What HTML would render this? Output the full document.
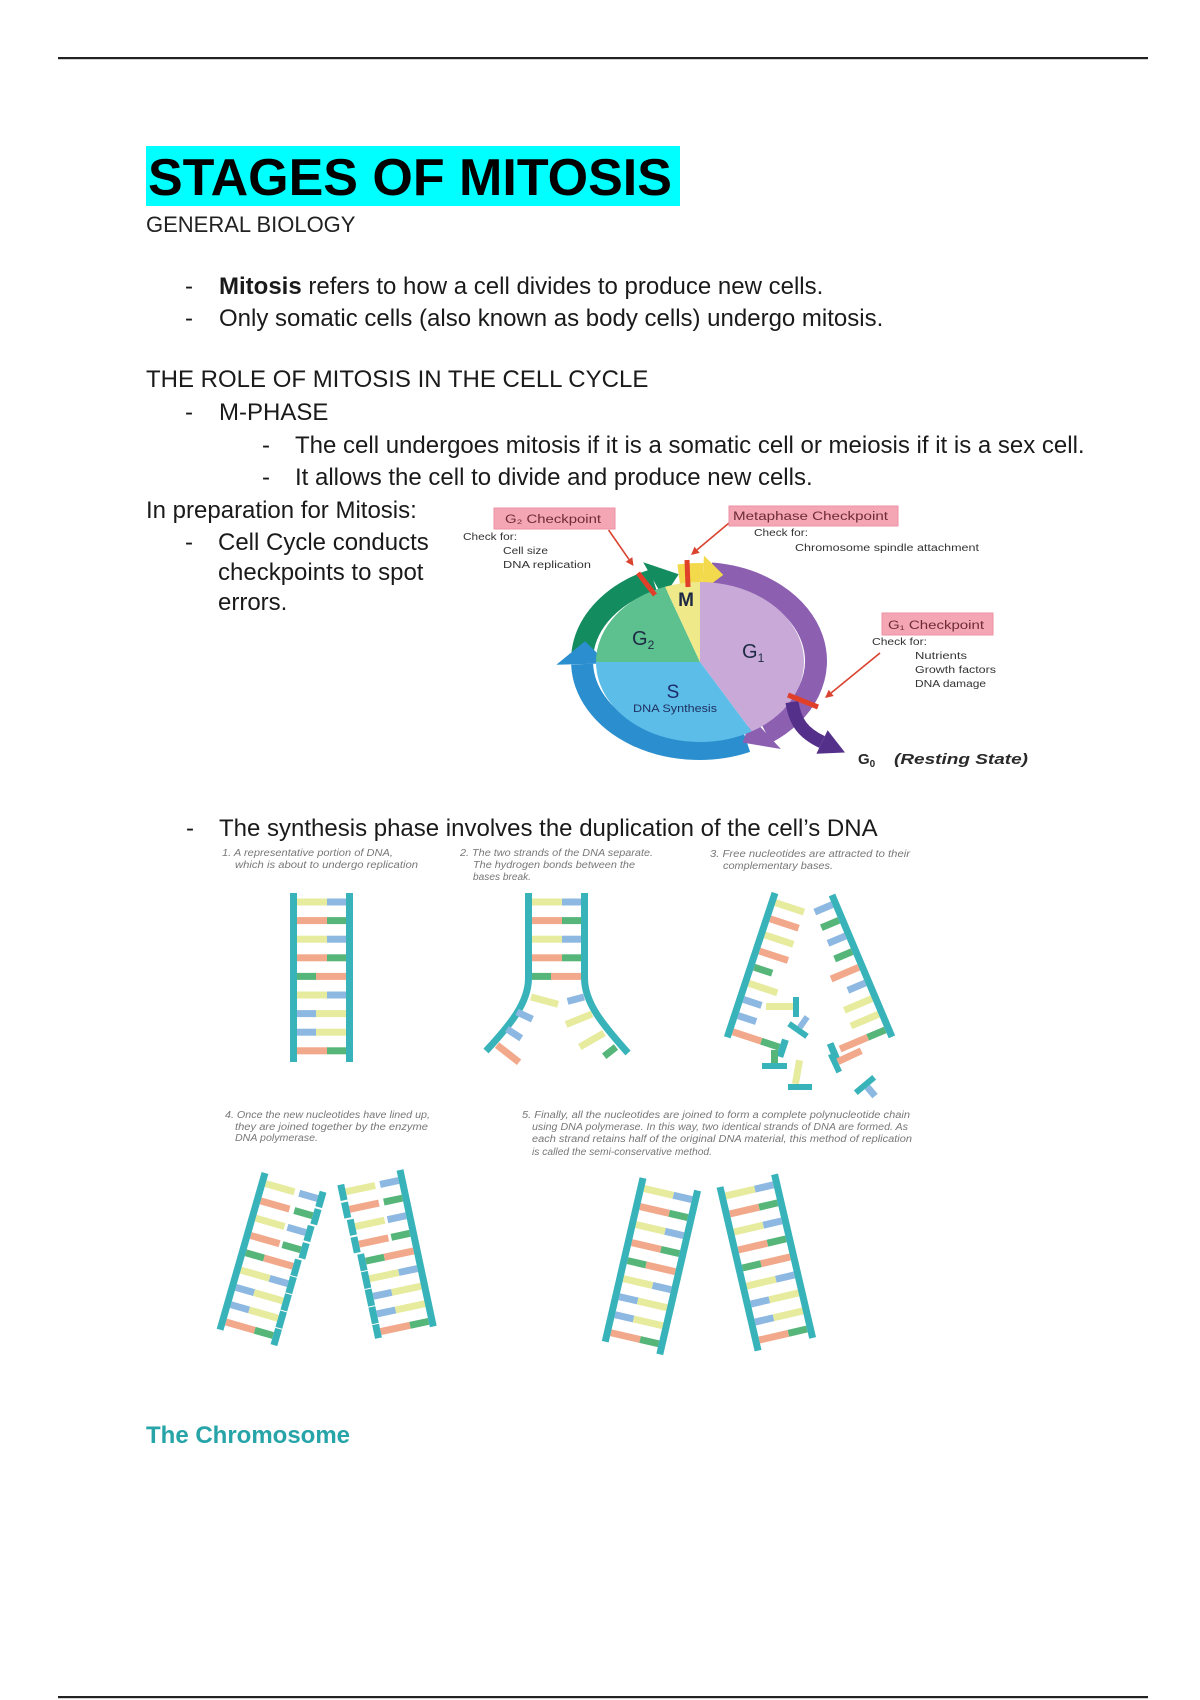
<!DOCTYPE html>
<html><head><meta charset="utf-8">
<style>
html,body{margin:0;padding:0;background:#fff;}
svg{display:block;}
text{font-family:"Liberation Sans",Arial,sans-serif;}
</style></head><body>
<svg width="1200" height="1700" viewBox="0 0 1200 1700" xmlns="http://www.w3.org/2000/svg">
<defs>
 <rect id="LY" x="3.5" y="-3.5" width="30" height="7" fill="#e6eb9d"/>
 <rect id="LO" x="3.5" y="-3.5" width="30" height="7" fill="#f2a88a"/>
 <rect id="LG" x="3.5" y="-3.5" width="19" height="7" fill="#56b67a"/>
 <rect id="LB" x="3.5" y="-3.5" width="19" height="7" fill="#8db8e2"/>
 <rect id="RY" x="22.5" y="-3.5" width="30" height="7" fill="#e6eb9d"/>
 <rect id="RO" x="22.5" y="-3.5" width="30" height="7" fill="#f2a88a"/>
 <rect id="RG" x="33.5" y="-3.5" width="19" height="7" fill="#56b67a"/>
 <rect id="RB" x="33.5" y="-3.5" width="19" height="7" fill="#8db8e2"/>
 <g id="YB"><use href="#LY"/><use href="#RB"/></g>
 <g id="OG"><use href="#LO"/><use href="#RG"/></g>
 <g id="GO"><use href="#LG"/><use href="#RO"/></g>
 <g id="BY"><use href="#LB"/><use href="#RY"/></g>
</defs>
<rect width="1200" height="1700" fill="#fff"/>

<!-- rules -->
<rect x="58" y="57" width="1090" height="2.2" fill="#222"/>
<rect x="58" y="1696" width="1090" height="2.2" fill="#222"/>

<!-- title -->
<rect x="146" y="146" width="534" height="60" fill="#0ff"/>
<text x="148" y="195" font-size="52" font-weight="bold" fill="#000">STAGES OF MITOSIS</text>
<text x="146" y="232" font-size="22" fill="#222">GENERAL BIOLOGY</text>

<!-- body text -->
<g font-size="24" fill="#1a1a1a">
 <text x="185" y="294">-</text>
 <text x="219" y="294"><tspan font-weight="bold">Mitosis</tspan> refers to how a cell divides to produce new cells.</text>
 <text x="185" y="326">-</text>
 <text x="219" y="326">Only somatic cells (also known as body cells) undergo mitosis.</text>
 <text x="146" y="387">THE ROLE OF MITOSIS IN THE CELL CYCLE</text>
 <text x="185" y="420">-</text>
 <text x="219" y="420">M-PHASE</text>
 <text x="262" y="453">-</text>
 <text x="295" y="453">The cell undergoes mitosis if it is a somatic cell or meiosis if it is a sex cell.</text>
 <text x="262" y="485">-</text>
 <text x="295" y="485">It allows the cell to divide and produce new cells.</text>
 <text x="146" y="518">In preparation for Mitosis:</text>
 <text x="185" y="550">-</text>
 <text x="218" y="550">Cell Cycle conducts</text>
 <text x="218" y="580">checkpoints to spot</text>
 <text x="218" y="610">errors.</text>
 <text x="186" y="836">-</text>
 <text x="219" y="836">The synthesis phase involves the duplication of the cell’s DNA</text>
</g>
<text x="146" y="1443" font-size="24" font-weight="bold" fill="#26a4a8">The Chromosome</text>

<!-- ================= CELL CYCLE ================= -->
<path d="M582.4,653.3 A117,88 0 0,1 653.3,580" stroke="#138d60" stroke-width="22" fill="none"/>
<polygon points="643.2,562.2 663.3,597.8 678.7,574.3" fill="#138d60"/>
<path d="M746.6,741.4 A117,88 0 0,1 582.1,664.1" stroke="#2b8fcf" stroke-width="22" fill="none"/>
<polygon points="556.3,664.7 607.8,663.4 585.0,641.2" fill="#2b8fcf"/>
<path d="M711.2,573.5 A117,88 0 0,1 766.1,733.1" stroke="#8c5fb1" stroke-width="22" fill="none"/>
<polygon points="780.9,749.0 751.3,717.2 742.8,742.6" fill="#8c5fb1"/>
<path d="M678.7,574.3 A117,88 0 0,1 703.1,573.1" stroke="#f3da4c" stroke-width="20" fill="none"/>
<polygon points="703.9,555.5 702.3,590.6 723.3,574.9" fill="#f3da4c"/>

<path d="M700,662 L700,582 A104,80 0 0,1 751.7,731.4 Z" fill="#c8a9d7"/>
<path d="M700,662 L751.7,731.4 A104,80 0 0,1 596,662 Z" fill="#5cbde9"/>
<path d="M700,662 L596,662 A104,80 0 0,1 665,586.7 Z" fill="#5dc08f"/>
<path d="M700,662 L665,586.7 A104,80 0 0,1 700,582 Z" fill="#efe98a"/>

<path d="M792,702 C795,722 803,733 822,742" stroke="#55308a" stroke-width="13" fill="none"/>
<polygon points="816.4,753.8 827.6,730.2 845,752.5" fill="#55308a"/>

<g stroke="#e0402a" stroke-width="5">
 <line x1="638" y1="573" x2="655" y2="595"/>
 <line x1="687" y1="560" x2="688" y2="587"/>
 <line x1="788" y1="695" x2="818" y2="707"/>
</g>
<g stroke="#d9432f" stroke-width="1.6">
 <line x1="608.6" y1="530" x2="629" y2="559.4"/>
 <line x1="729" y1="523" x2="697.1" y2="549.8"/>
 <line x1="880" y1="653" x2="831.2" y2="692.9"/>
</g>
<g fill="#d9432f">
 <polygon points="625.7,561.7 632.3,557.1 633.5,566"/>
 <polygon points="694.5,546.7 699.7,552.9 691,555"/>
 <polygon points="828.7,689.8 833.7,696.0 825,698"/>
</g>

<text x="686" y="606" font-size="19" font-weight="bold" fill="#1e2a45" text-anchor="middle">M</text>
<text x="632" y="645" font-size="20" fill="#1e2b44">G<tspan font-size="12" dy="4">2</tspan></text>
<text x="742" y="658" font-size="20" fill="#1e2b44">G<tspan font-size="12" dy="4">1</tspan></text>
<text x="673" y="698" font-size="19" fill="#1e2b6a" text-anchor="middle">S</text>
<text x="633" y="712" font-size="11" fill="#1e3060" textLength="84" lengthAdjust="spacingAndGlyphs">DNA Synthesis</text>

<rect x="494" y="508" width="121" height="21" fill="#f5a6b5" stroke="#ec93a4" stroke-width="1"/>
<text x="505" y="523" font-size="11.5" fill="#6d2b35" textLength="96" lengthAdjust="spacingAndGlyphs">G₂ Checkpoint</text>
<rect x="729" y="506" width="169" height="20" fill="#f5a6b5" stroke="#ec93a4" stroke-width="1"/>
<text x="733" y="520" font-size="11.5" fill="#6d2b35" textLength="155" lengthAdjust="spacingAndGlyphs">Metaphase Checkpoint</text>
<rect x="882" y="613" width="111" height="22" fill="#f5a6b5" stroke="#ec93a4" stroke-width="1"/>
<text x="888" y="629" font-size="11.5" fill="#6d2b35" textLength="96" lengthAdjust="spacingAndGlyphs">G₁ Checkpoint</text>

<g font-size="10" fill="#333">
 <text x="463" y="540" textLength="54" lengthAdjust="spacingAndGlyphs">Check for:</text>
 <text x="503" y="554" textLength="45" lengthAdjust="spacingAndGlyphs">Cell size</text>
 <text x="503" y="568" textLength="88" lengthAdjust="spacingAndGlyphs">DNA replication</text>
 <text x="754" y="536" textLength="54" lengthAdjust="spacingAndGlyphs">Check for:</text>
 <text x="795" y="551" textLength="184" lengthAdjust="spacingAndGlyphs">Chromosome spindle attachment</text>
 <text x="872" y="645" textLength="55" lengthAdjust="spacingAndGlyphs">Check for:</text>
 <text x="915" y="659" textLength="52" lengthAdjust="spacingAndGlyphs">Nutrients</text>
 <text x="915" y="673" textLength="81" lengthAdjust="spacingAndGlyphs">Growth factors</text>
 <text x="915" y="687" textLength="71" lengthAdjust="spacingAndGlyphs">DNA damage</text>
</g>
<text x="858" y="764" font-size="15" font-weight="bold" fill="#2a2a2a">G<tspan font-size="10" dy="3">0</tspan></text>
<text x="894" y="764" font-size="15" font-weight="bold" font-style="italic" fill="#2a2a2a" textLength="134" lengthAdjust="spacingAndGlyphs">(Resting State)</text>

<!-- ================= DNA captions ================= -->
<g font-size="10" font-style="italic" fill="#777">
 <text x="222" y="856" textLength="171" lengthAdjust="spacingAndGlyphs">1. A representative portion of DNA,</text>
 <text x="235" y="868" textLength="183" lengthAdjust="spacingAndGlyphs">which is about to undergo replication</text>
 <text x="460" y="856" textLength="193" lengthAdjust="spacingAndGlyphs">2. The two strands of the DNA separate.</text>
 <text x="473" y="868" textLength="162" lengthAdjust="spacingAndGlyphs">The hydrogen bonds between the</text>
 <text x="473" y="880" textLength="58" lengthAdjust="spacingAndGlyphs">bases break.</text>
 <text x="710" y="857" textLength="200" lengthAdjust="spacingAndGlyphs">3. Free nucleotides are attracted to their</text>
 <text x="723" y="869" textLength="110" lengthAdjust="spacingAndGlyphs">complementary bases.</text>
 <text x="225" y="1118" textLength="205" lengthAdjust="spacingAndGlyphs">4. Once the new nucleotides have lined up,</text>
 <text x="235" y="1130" textLength="193" lengthAdjust="spacingAndGlyphs">they are joined together by the enzyme</text>
 <text x="235" y="1141" textLength="83" lengthAdjust="spacingAndGlyphs">DNA polymerase.</text>
 <text x="522" y="1118" textLength="388" lengthAdjust="spacingAndGlyphs">5. Finally, all the nucleotides are joined to form a complete polynucleotide chain</text>
 <text x="532" y="1130" textLength="376" lengthAdjust="spacingAndGlyphs">using DNA polymerase. In this way, two identical strands of DNA are formed. As</text>
 <text x="532" y="1142" textLength="380" lengthAdjust="spacingAndGlyphs">each strand retains half of the original DNA material, this method of replication</text>
 <text x="532" y="1155" textLength="180" lengthAdjust="spacingAndGlyphs">is called the semi-conservative method.</text>
</g>

<!-- Ladder 1 -->
<g transform="translate(293.5,893)">
 <use href="#YB" y="9"/><use href="#OG" y="27.6"/><use href="#YB" y="46.2"/><use href="#OG" y="64.8"/><use href="#GO" y="83.4"/><use href="#YB" y="102"/><use href="#BY" y="120.6"/><use href="#BY" y="139.2"/><use href="#OG" y="157.8"/>
 <rect x="-3.5" y="0" width="7" height="169" fill="#38b3b9"/><rect x="52.5" y="0" width="7" height="169" fill="#38b3b9"/>
</g>

<!-- Ladder 2 -->
<g transform="translate(528.5,893)">
 <use href="#YB" y="9"/><use href="#OG" y="27.6"/><use href="#YB" y="46.2"/><use href="#OG" y="64.8"/><use href="#GO" y="83.4"/>
</g>
<path d="M528.5,893 V978 C528.5,1003 510,1025 486,1051" stroke="#38b3b9" stroke-width="7" fill="none"/>
<path d="M584.5,893 V978 C584.5,1003 603,1025 628,1053" stroke="#38b3b9" stroke-width="7" fill="none"/>
<rect x="0" y="-3.5" width="28" height="7" fill="#e6eb9d" transform="translate(531,997) rotate(15)"/>
<rect x="0" y="-3.5" width="17" height="7" fill="#8db8e2" transform="translate(517,1012) rotate(25)"/>
<rect x="0" y="-3.5" width="17" height="7" fill="#8db8e2" transform="translate(507,1029) rotate(33)"/>
<rect x="0" y="-3.5" width="28" height="7" fill="#f2a88a" transform="translate(497,1045) rotate(38)"/>
<rect x="-17" y="-3.5" width="17" height="7" fill="#8db8e2" transform="translate(584,997) rotate(-15)"/>
<rect x="-28" y="-3.5" width="28" height="7" fill="#e6eb9d" transform="translate(592,1014) rotate(-22)"/>
<rect x="-28" y="-3.5" width="28" height="7" fill="#e6eb9d" transform="translate(604,1033) rotate(-30)"/>
<rect x="-15" y="-3.5" width="15" height="7" fill="#56b67a" transform="translate(616,1047) rotate(-38)"/>

<!-- Ladder 3 left strand -->
<g transform="translate(775,893) rotate(18.3)">
 <use href="#LY" y="9"/><use href="#LO" y="26"/><use href="#LY" y="43"/><use href="#LO" y="60"/><use href="#LG" y="77"/><use href="#LY" y="94"/><use href="#LB" y="111"/><use href="#LB" y="128"/>
 <use href="#OG" y="145"/><rect x="52.5" y="136" width="7" height="18" fill="#38b3b9"/>
 <rect x="-3.5" y="0" width="7" height="152" fill="#38b3b9"/>
</g>
<!-- Ladder 3 right strand -->
<g transform="translate(832,895) rotate(-22.9)">
 <use href="#RB" x="-56" y="9"/><use href="#RG" x="-56" y="26"/><use href="#RB" x="-56" y="43"/><use href="#RG" x="-56" y="60"/><use href="#RO" x="-56" y="77"/><use href="#RB" x="-56" y="94"/><use href="#RY" x="-56" y="111"/><use href="#RY" x="-56" y="128"/>
 <use href="#OG" x="-56" y="145"/><rect x="-63" y="136" width="7" height="18" fill="#38b3b9"/>
 <rect x="-3.5" y="0" width="7" height="154" fill="#38b3b9"/>
</g>
<!-- free nucleotides -->
<rect x="766" y="1003" width="27" height="7" fill="#e6eb9d"/>
<rect x="793" y="997" width="6" height="20" fill="#38b3b9"/>
<g transform="translate(798,1030) rotate(35)"><rect x="-3" y="-16" width="6" height="13" fill="#8db8e2"/><rect x="-11" y="-3" width="22" height="6" fill="#38b3b9"/></g>
<rect x="771" y="1050" width="7" height="13" fill="#56b67a"/>
<rect x="762" y="1063" width="25" height="6" fill="#38b3b9"/>
<rect x="794" y="1060" width="7" height="24" fill="#e6eb9d" transform="rotate(10 797 1072)"/>
<rect x="788" y="1084" width="24" height="6" fill="#38b3b9"/>
<g transform="translate(835,1063) rotate(-25)"><rect x="3" y="-3.5" width="26" height="7" fill="#f2a88a"/><rect x="-3" y="-10" width="6" height="20" fill="#38b3b9"/></g>
<g transform="translate(865,1085) rotate(-40)"><rect x="-3" y="3" width="7" height="12" fill="#8db8e2"/><rect x="-12" y="-3" width="24" height="6" fill="#38b3b9"/></g>

<!-- Ladder 4 left -->
<g transform="translate(265,1173) rotate(16)">
 <use href="#LY" y="10"/><use href="#RB" x="5" y="10"/><rect x="57.5" y="2" width="7" height="16" fill="#38b3b9"/>
 <use href="#LO" y="28"/><use href="#RG" x="5" y="28"/><rect x="57.5" y="20" width="7" height="16" fill="#38b3b9"/>
 <use href="#LY" y="46"/><use href="#RB" x="3" y="46"/><rect x="55.5" y="38" width="7" height="16" fill="#38b3b9"/>
 <use href="#LO" y="64"/><use href="#RG" x="3" y="64"/><rect x="55.5" y="56" width="7" height="16" fill="#38b3b9"/>
 <use href="#GO" y="82"/><rect x="52.5" y="74" width="7" height="17" fill="#38b3b9"/>
 <use href="#YB" y="100"/><rect x="52.5" y="92" width="7" height="17" fill="#38b3b9"/>
 <use href="#BY" y="118"/><rect x="52.5" y="110" width="7" height="17" fill="#38b3b9"/>
 <use href="#BY" y="136"/><rect x="52.5" y="128" width="7" height="17" fill="#38b3b9"/>
 <use href="#OG" y="154"/><rect x="52.5" y="146" width="7" height="17" fill="#38b3b9"/>
 <rect x="-3.5" y="0" width="7" height="163" fill="#38b3b9"/>
</g>
<!-- Ladder 4 right -->
<g transform="translate(400,1170) rotate(-12)">
 <use href="#LY" x="-61" y="10"/><use href="#RB" x="-56" y="10"/><rect x="-64.5" y="2" width="7" height="16" fill="#38b3b9"/>
 <use href="#LO" x="-61" y="28"/><use href="#RG" x="-56" y="28"/><rect x="-64.5" y="20" width="7" height="16" fill="#38b3b9"/>
 <use href="#LY" x="-59" y="46"/><use href="#RB" x="-56" y="46"/><rect x="-62.5" y="38" width="7" height="16" fill="#38b3b9"/>
 <use href="#LO" x="-59" y="64"/><use href="#RG" x="-56" y="64"/><rect x="-62.5" y="56" width="7" height="16" fill="#38b3b9"/>
 <use href="#GO" x="-56" y="82"/><rect x="-59.5" y="74" width="7" height="17" fill="#38b3b9"/>
 <use href="#YB" x="-56" y="100"/><rect x="-59.5" y="92" width="7" height="17" fill="#38b3b9"/>
 <use href="#BY" x="-56" y="118"/><rect x="-59.5" y="110" width="7" height="17" fill="#38b3b9"/>
 <use href="#BY" x="-56" y="136"/><rect x="-59.5" y="128" width="7" height="17" fill="#38b3b9"/>
 <use href="#OG" x="-56" y="154"/><rect x="-59.5" y="146" width="7" height="14" fill="#38b3b9"/>
 <rect x="-3.5" y="0" width="7" height="160" fill="#38b3b9"/>
</g>

<!-- Ladder 5 left -->
<g transform="translate(643,1178) rotate(13)">
 <use href="#YB" y="10"/><use href="#OG" y="28.5"/><use href="#YB" y="47"/><use href="#OG" y="65.5"/><use href="#GO" y="84"/><use href="#YB" y="102.5"/><use href="#BY" y="121"/><use href="#BY" y="139.5"/><use href="#OG" y="158"/>
 <rect x="-3.5" y="0" width="7" height="168" fill="#38b3b9"/><rect x="52.5" y="0" width="7" height="168" fill="#38b3b9"/>
</g>
<!-- Ladder 5 right -->
<g transform="translate(720,1187) rotate(-13.1)">
 <use href="#YB" y="10"/><use href="#OG" y="28.5"/><use href="#YB" y="47"/><use href="#OG" y="65.5"/><use href="#GO" y="84"/><use href="#YB" y="102.5"/><use href="#BY" y="121"/><use href="#BY" y="139.5"/><use href="#OG" y="158"/>
 <rect x="-3.5" y="0" width="7" height="168" fill="#38b3b9"/><rect x="52.5" y="0" width="7" height="168" fill="#38b3b9"/>
</g>
</svg>
</body></html>
